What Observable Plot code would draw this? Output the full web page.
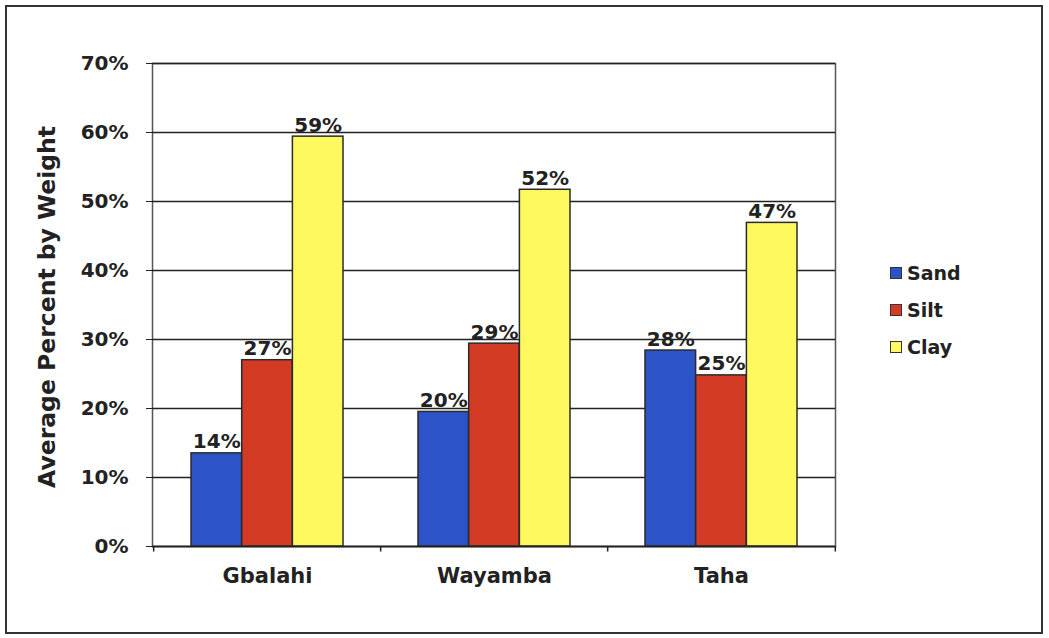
<!DOCTYPE html>
<html><head><meta charset="utf-8">
<script src="https://cdn.jsdelivr.net/npm/d3@7"></script>
<script src="https://cdn.jsdelivr.net/npm/@observablehq/plot@0.6"></script>
<style>
body{margin:0;background:#fff;}
#wrap{position:relative;width:1049px;height:638px;overflow:hidden;background:#fff;}
#chart{position:absolute;left:0;top:0;}
#border{position:absolute;left:5px;top:5px;width:1034px;height:625px;border:2px solid #333;pointer-events:none;}
#legend{position:absolute;left:890px;top:254px;font:bold 19px "DejaVu Sans",sans-serif;color:#222;}
.item{display:flex;align-items:center;height:37px;}
.sw{width:10px;height:10px;border:1.5px solid #333;margin-right:5px;}
</style></head>
<body><div id="wrap"><div id="chart"></div><div id="border"></div><div id="legend"></div></div>
<script>
const sites = ["Gbalahi", "Wayamba", "Taha"];
const components = ["Sand", "Silt", "Clay"];
const sand = [13.5, 19.5, 28.4];
const silt = [27.0, 29.4, 24.8];
const clay = [59.4, 51.7, 46.9];
const colors = ["#2d53c8", "#d33b25", "#fdf95e"];
const yTicks = [0, 10, 20, 30, 40, 50, 60, 70];
const yTitle = "Average Percent by Weight";

const series = [sand, silt, clay];
const data = [];
components.forEach((c, ci) => sites.forEach((s, si) => data.push({site: s, component: c, ci, value: series[ci][si]})));

const W = 1049, H = 638, mL = 152, mR = 214, mT = 63, mB = 92;
const pInner = 0.332, pOuter = pInner / 2;
const step = (W - mL - mR) / (sites.length - pInner + 2 * pOuter);
const bw = step * (1 - pInner);
const barW = bw / 3;

const marks = [
  Plot.frame({stroke: "#555", strokeWidth: 1.5}),
  Plot.ruleY(yTicks, {stroke: "#222", strokeWidth: 1.4}),
];
components.forEach((c, ci) => {
  const d = data.filter(r => r.ci === ci);
  marks.push(Plot.barY(d, {
    x: "site", y: "value", fill: colors[ci], stroke: "#2a2a2a", strokeWidth: 1.5,
    insetLeft: ci * barW, insetRight: (2 - ci) * barW
  }));
  marks.push(Plot.text(d, {
    x: "site", y: "value", text: r => Math.round(r.value) + "%",
    dx: (ci - 1) * barW, dy: -5, lineAnchor: "bottom",
    fontSize: 20, fontWeight: "bold", fill: "#222"
  }));
});
marks.push(
  Plot.ruleY([0], {stroke: "#222", strokeWidth: 1.6}),
  Plot.ruleX(sites, {x: d => d, y1: 0, y2: -0.8, dx: -step / 2, stroke: "#222", strokeWidth: 1.5}),
  Plot.ruleX([sites[sites.length - 1]], {x: d => d, y1: 0, y2: -0.8, dx: step / 2, stroke: "#222", strokeWidth: 1.5}),
  Plot.axisY(yTicks, {tickSize: 6, tickPadding: 18, tickFormat: d => d + "%", fontSize: 20, fontWeight: "bold", label: null, stroke: "#222"}),
  Plot.axisX({tickSize: 0, tickPadding: 22, fontSize: 21, fontWeight: "bold", label: null}),
  Plot.text([yTitle], {frameAnchor: "left", textAnchor: "middle", dx: -105, dy: 2, rotate: -90, lineAnchor: "middle", fontSize: 23.5, fontWeight: "bold", fill: "#222"})
);

const chart = Plot.plot({
  width: W, height: H,
  marginLeft: mL, marginRight: mR, marginTop: mT, marginBottom: mB,
  style: {fontFamily: "DejaVu Sans, sans-serif", color: "#222", background: "transparent"},
  x: {domain: sites, paddingInner: pInner, paddingOuter: pOuter, axis: null},
  y: {domain: [0, 70], axis: null},
  marks
});
document.getElementById("chart").appendChild(chart);

const legend = document.getElementById("legend");
components.forEach((c, i) => {
  const item = document.createElement("div");
  item.className = "item";
  const sw = document.createElement("div");
  sw.className = "sw";
  sw.style.background = colors[i];
  const t = document.createElement("span");
  t.textContent = c;
  item.appendChild(sw); item.appendChild(t);
  legend.appendChild(item);
});
</script>
</body></html>
